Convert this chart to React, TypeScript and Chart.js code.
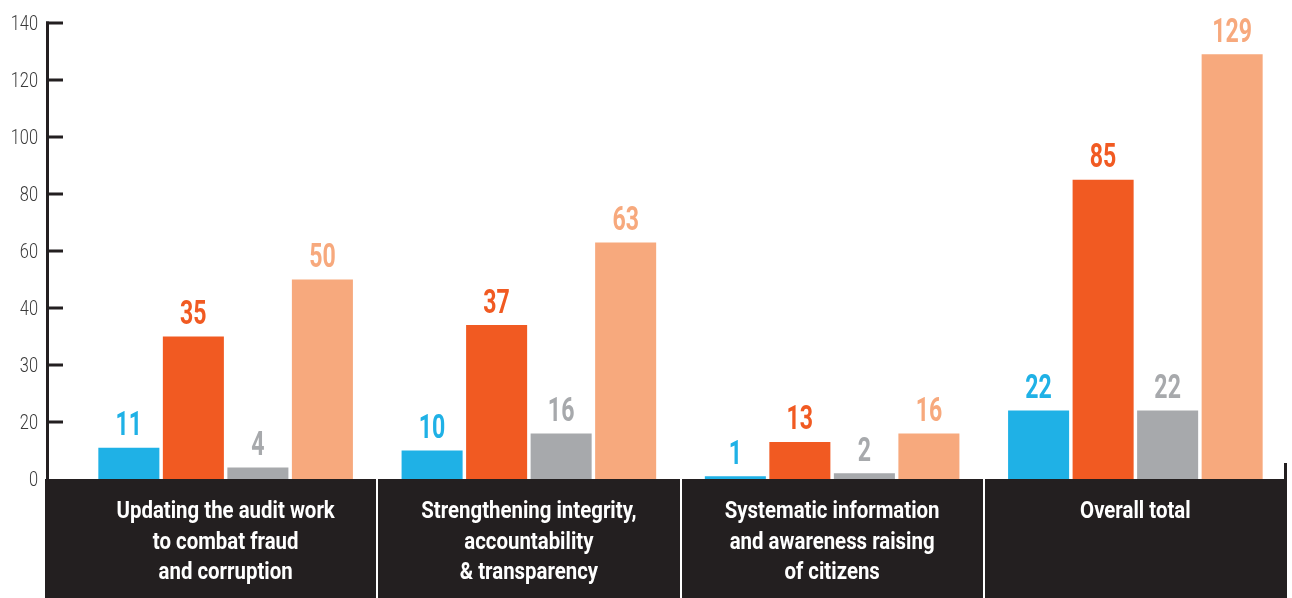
import React, { useEffect, useRef } from "react";
import { Chart, registerables } from "chart.js";

Chart.register(...registerables);

// ---- Data ----
const categories: string[][] = [
  ["Updating the audit work", "to combat fraud", "and corruption"],
  ["Strengthening integrity,", "accountability", "& transparency"],
  ["Systematic information", "and awareness raising", "of citizens"],
  ["Overall total"],
];
const seriesBlue = [11, 10, 1, 22];
const seriesOrange = [35, 37, 13, 85];
const seriesGray = [4, 16, 2, 22];
const seriesPeach = [50, 63, 16, 129];
const tickLabels = [0, 20, 30, 40, 60, 80, 100, 120, 140];

const seriesList = [seriesBlue, seriesOrange, seriesGray, seriesPeach];
const seriesColors = ["#1fb1e6", "#f15a22", "#a7a9ac", "#f7a97d"];
const seriesNames = ["Series 1", "Series 2", "Series 3", "Series 4"];

// The axis is graduated by the tick labels above (evenly spaced ticks);
// map each value onto that graduated axis piecewise between labels.
function toAxis(v: number): number {
  for (let i = 0; i < tickLabels.length - 1; i++) {
    const a = tickLabels[i];
    const b = tickLabels[i + 1];
    if (v >= a && v <= b) return i + (v - a) / (b - a);
  }
  return tickLabels.length - 1;
}

const FONT = "Roboto, 'Liberation Sans', 'DejaVu Sans', sans-serif";

function drawScaledText(
  ctx: CanvasRenderingContext2D,
  text: string,
  x: number,
  y: number,
  font: string,
  color: string,
  sx: number,
  align: CanvasTextAlign
) {
  ctx.save();
  ctx.translate(x, y);
  ctx.scale(sx, 1);
  ctx.font = font;
  ctx.fillStyle = color;
  ctx.textAlign = align;
  ctx.textBaseline = "alphabetic";
  ctx.fillText(text, 0, 0);
  ctx.restore();
}

const overlayPlugin = {
  id: "overlay",
  afterDraw(chart: any) {
    const ctx: CanvasRenderingContext2D = chart.ctx;
    const { left, right, top, bottom } = chart.chartArea;
    const xs = chart.scales.x;
    const ys = chart.scales.y;
    const H = chart.height;
    ctx.save();

    // value labels above bars
    chart.data.datasets.forEach((_ds: any, di: number) => {
      const meta = chart.getDatasetMeta(di);
      meta.data.forEach((bar: any, i: number) => {
        drawScaledText(
          ctx,
          String(seriesList[di][i]),
          bar.x,
          bar.y - 12.5,
          `bold 34px ${FONT}`,
          seriesColors[di],
          0.68,
          "center"
        );
      });
    });

    // dark band under the axis
    const bandLeft = left - 29;
    ctx.fillStyle = "#231f20";
    ctx.fillRect(bandLeft, bottom, right - bandLeft, H - bottom);

    // separators
    ctx.fillStyle = "#ffffff";
    for (let i = 1; i < categories.length; i++) {
      const bx = (xs.getPixelForValue(i - 1) + xs.getPixelForValue(i)) / 2;
      ctx.fillRect(Math.round(bx) - 1, bottom, 2, H - bottom);
    }

    // right small tick
    ctx.fillStyle = "#231f20";
    ctx.fillRect(right - 3, bottom - 16, 3, 16);

    // category labels
    categories.forEach((lines, i) => {
      const cx = xs.getPixelForValue(i);
      lines.forEach((line, li) => {
        drawScaledText(
          ctx,
          line,
          cx,
          bottom + 39 + li * 30.5,
          `bold 24px ${FONT}`,
          "#ffffff",
          0.85,
          "center"
        );
      });
    });

    // y axis line and ticks
    const axisX = left - 28;
    ctx.fillStyle = "#231f20";
    ctx.fillRect(axisX, top - 1.5, 3, bottom - top + 1.5);
    tickLabels.forEach((lab, k) => {
      const ty = ys.getPixelForValue(k);
      if (k > 0) ctx.fillRect(axisX, ty - 1.5, 17, 3);
      drawScaledText(
        ctx,
        String(lab),
        left - 36,
        ty + 7,
        `300 21px ${FONT}`,
        "#3a3a3a",
        0.78,
        "right"
      );
    });

    ctx.restore();
  },
};

export default function App() {
  const ref = useRef<HTMLCanvasElement | null>(null);

  useEffect(() => {
    if (!ref.current) return;
    const chart = new Chart(ref.current, {
      type: "bar",
      data: {
        labels: categories.map((c) => c.join(" ")),
        datasets: seriesList.map((s, di) => ({
          label: seriesNames[di],
          data: s.map(toAxis),
          backgroundColor: seriesColors[di],
          borderWidth: 0,
          categoryPercentage: 0.851,
          barPercentage: 0.946,
        })),
      },
      options: {
        responsive: false,
        animation: false,
        layout: { padding: { left: 74, right: 5, top: 23, bottom: 119 } },
        plugins: {
          legend: { display: false },
          tooltip: { enabled: false },
        },
        scales: {
          x: { display: false, grid: { display: false } },
          y: {
            display: false,
            min: 0,
            max: tickLabels.length - 1,
            grid: { display: false },
          },
        },
      },
      plugins: [overlayPlugin],
    });
    return () => chart.destroy();
  }, []);

  return (
    <div style={{ position: "absolute", left: 0, top: 0, width: 1292, height: 598, background: "#fff" }}>
      <canvas ref={ref} width={1292} height={598} style={{ display: "block" }} />
    </div>
  );
}
